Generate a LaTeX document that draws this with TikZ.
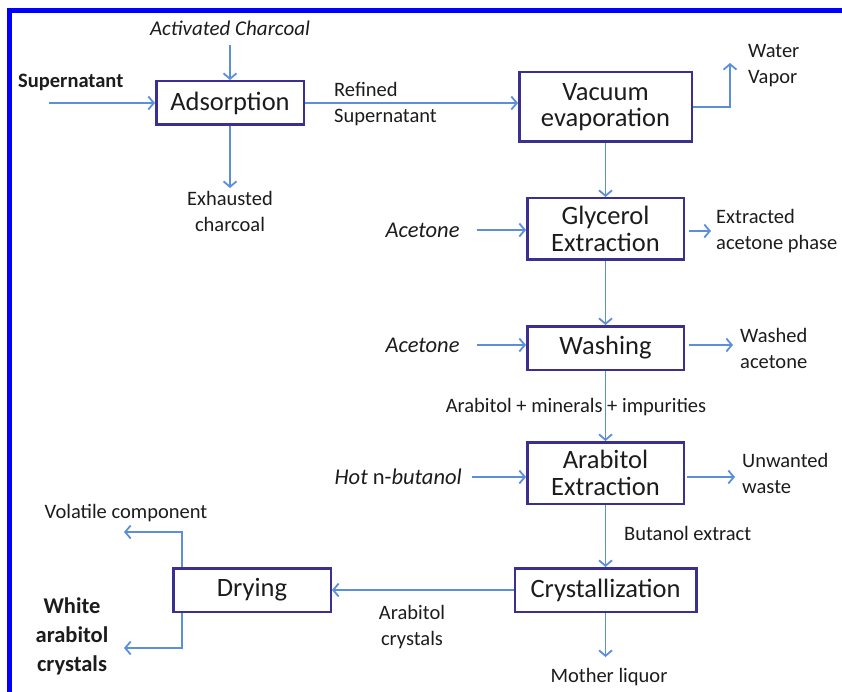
\documentclass[tikz,border=0pt]{standalone}
\usepackage{fontspec}
\setmainfont{Carlito}
\usetikzlibrary{arrows.meta}
\definecolor{boxc}{HTML}{3B2F8F}
\definecolor{arrc}{HTML}{5B8EDB}
\definecolor{txt}{HTML}{1C1C1C}
\definecolor{framec}{HTML}{0000FF}

\begin{document}
\begin{tikzpicture}[x=1pt,y=-1pt,
  stage/.style={draw=boxc, line width=2.5pt, inner sep=0pt, align=center,
    text=txt, font=\fontsize{26.5}{26.5}\selectfont},
  lbl/.style={inner sep=0pt, text=txt, font=\fontsize{20.5}{26}\selectfont},
  feed/.style={inner sep=0pt, text=txt, font=\fontsize{22.5}{27}\selectfont\itshape},
  prod/.style={inner sep=0pt, text=txt, align=center, font=\fontsize{22.5}{29}\selectfont\bfseries},
  flow/.style={draw=arrc, line width=1.8pt, -{Straight Barb[length=5.5pt,width=13pt]}}]

\useasboundingbox (0,0) rectangle (842,692);
% frame along the top and left edges
\draw[framec, line width=5pt, line cap=butt, line join=miter] (842,10.5) -- (9.5,10.5) -- (9.5,692);

% process stages
\node[stage, minimum width=147.5pt, minimum height=43.5pt] (ads) at (230,103) {Adsorption};
\node[stage, minimum width=172.5pt, minimum height=69.5pt] (vac) at (605.5,107) {Vacuum\\evaporation};
\node[stage, minimum width=156.5pt, minimum height=61.5pt] (gly) at (605.5,229) {Glycerol\\Extraction};
\node[stage, minimum width=156.5pt, minimum height=43.5pt] (wash) at (605.5,348) {Washing};
\node[stage, minimum width=156.5pt, minimum height=61.5pt] (arex) at (605.5,473) {Arabitol\\Extraction};
\node[stage, minimum width=181.5pt, minimum height=43.5pt] (cry) at (605.5,590) {Crystallization};
\node[stage, minimum width=157.5pt, minimum height=43.5pt] (dry) at (252,590) {Drying};

% feeds and products
\node[feed, font=\fontsize{21}{26}\selectfont\itshape] (char) at (230,28) {Activated Charcoal};
\node[lbl, font=\fontsize{20.5}{26}\selectfont\bfseries, anchor=west] (sup) at (18,82) {Supernatant};
\node[lbl, align=center] (exh) at (230,211.5) {Exhausted\\charcoal};
\node[lbl, align=left, anchor=west] (ref) at (334,104) {Refined\\Supernatant};
\node[lbl, align=left, anchor=west] (wv) at (748,66) {Water\\Vapor};
\node[feed] (ac1) at (422.5,230) {Acetone};
\node[lbl, align=left, anchor=west] (eap) at (716,231) {Extracted\\acetone phase};
\node[feed] (ac2) at (422.5,345) {Acetone};
\node[lbl, align=left, anchor=west] (wa) at (740,348.5) {Washed\\acetone};
\node[lbl] (ami) at (576,407) {Arabitol + minerals + impurities};
\node[feed, anchor=east] (hb) at (462,477) {Hot \upshape n-\itshape butanol};
\node[lbl, align=left, anchor=west] (uw) at (742,473.5) {Unwanted\\waste};
\node[lbl, anchor=west] (be) at (624,533) {Butanol extract};
\node[lbl, align=center] (ac) at (412,627.5) {Arabitol\\crystals};
\node[lbl] (ml) at (609,677) {Mother liquor};
\node[lbl] (vol) at (126,513) {Volatile component};
\node[prod] (wac) at (72,636) {White\\arabitol\\crystals};

% free ends of the streams
\coordinate (supin) at (49,103);
\coordinate (charin) at (230,45);
\coordinate (exhout) at (230,188);
\coordinate (wvout) at (730,63);
\coordinate (mlout) at (605.5,657);
\coordinate (volout) at (124,532);
\coordinate (wacout) at (124,648);

% streams
\draw[flow] (supin) -- (ads.west);
\draw[flow] (charin) -- (ads.north);
\draw[flow] (ads.south) -- (exhout);
\draw[flow] (ads.east) -- (ads.east -| vac.west);
\draw[flow] (vac.east) -| (wvout);
\draw[flow] (vac.south) -- (gly.north);
\draw[flow, shorten <=17pt] (ac1.east) -- (ac1.east -| gly.west);
\draw[flow, shorten <=4pt, shorten >=5pt] (gly.east |- eap.west) -- (eap.west);
\draw[flow] (gly.south) -- (wash.north);
\draw[flow, shorten <=17pt] (ac2.east) -- (ac2.east -| wash.west);
\draw[flow, shorten <=4pt, shorten >=7pt] (ac2.east -| wash.east) -- (ac2.east -| wa.west);
\draw[flow] (wash.south) -- (arex.north);
\draw[flow, shorten <=10pt] (hb.east) -- (hb.east -| arex.west);
\draw[flow, shorten <=2pt, shorten >=7pt] (hb.east -| arex.east) -- (hb.east -| uw.west);
\draw[flow] (arex.south) -- (cry.north);
\draw[flow] (cry.west) -- (dry.east);
\draw[flow] (cry.south) -- (mlout);
\draw[flow] ([xshift=10pt]dry.north west) |- (volout);
\draw[flow] ([xshift=10pt]dry.south west) |- (wacout);
\end{tikzpicture}
\end{document}
